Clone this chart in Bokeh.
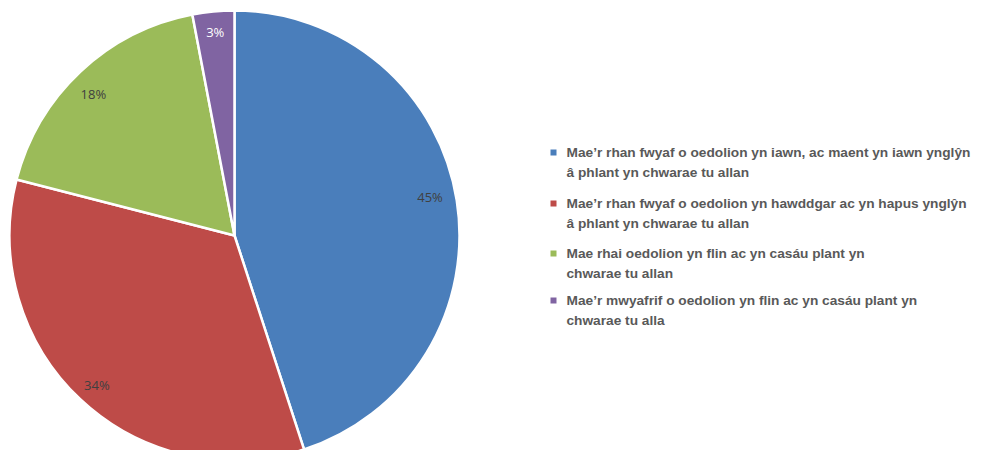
import numpy as np
from bokeh.plotting import figure
from bokeh.models import Range1d, ColumnDataSource
from bokeh.core.properties import value
from bokeh.embed import file_html
from bokeh.resources import INLINE

categories = [
    "Mae\u2019r rhan fwyaf o oedolion yn iawn, ac maent yn iawn ynglŷn\nâ phlant yn chwarae tu allan",
    "Mae\u2019r rhan fwyaf o oedolion yn hawddgar ac yn hapus ynglŷn\nâ phlant yn chwarae tu allan",
    "Mae rhai oedolion yn flin ac yn casáu plant yn\nchwarae tu allan",
    "Mae\u2019r mwyafrif o oedolion yn flin ac yn casáu plant yn\nchwarae tu alla",
]
shares = [45, 34, 18, 3]
colors = ["#4A7EBB", "#BE4B48", "#9BBB59", "#8064A2"]
label_colors = ["#404040", "#404040", "#404040", "#FFFFFF"]

W, H = 978, 450
p = figure(width=W, height=H, output_backend="svg", toolbar_location=None,
           x_range=Range1d(0, W), y_range=Range1d(0, H), min_border=0)
p.axis.visible = False
p.grid.visible = False
p.outline_line_color = None

cx, cy, r = 234, H - 235, 225
vals = np.array(shares, dtype=float)
frac = vals / vals.sum()
cum_end = np.cumsum(frac)
cum_start = cum_end - frac
start = np.pi / 2 - 2 * np.pi * cum_start
end = np.pi / 2 - 2 * np.pi * cum_end
src = ColumnDataSource(dict(start=start, end=end, color=colors))
p.wedge(x=cx, y=cy, radius=r, start_angle="start", end_angle="end",
        direction="clock", fill_color="color", line_color="white", line_width=2.5,
        source=src)

# labels (radial placement with small nudges)
mid = (start + end) / 2
lr = np.array([0.88, 0.90, 0.89, 0.91]) * r
nudge_x = np.array([0, 1, -4, 0])
nudge_y = np.array([8, -2, -4, 0])
lx = cx + lr * np.cos(mid) + nudge_x
ly = cy + lr * np.sin(mid) + nudge_y
p.text(x=lx, y=ly, text=[f"{s}%" for s in shares], text_color=label_colors,
       text_font=value("Open Sans"), text_font_size="13px",
       text_align="center", text_baseline="middle")

# legend
lgx = 553
lgy = np.array([H - 152, H - 203, H - 253, H - 300])
p.scatter(x=[lgx] * 4, y=lgy, marker="square", size=6, fill_color=colors, line_color=None)
p.text(x=[lgx + 13] * 4, y=lgy - 10, text=categories, text_color="#595959",
       text_font=value("Liberation Sans"), text_font_size="13.7px", text_font_style="bold",
       text_align="left", text_baseline="middle", text_line_height=1.35)

open("out.html", "w").write(file_html(p, INLINE))
